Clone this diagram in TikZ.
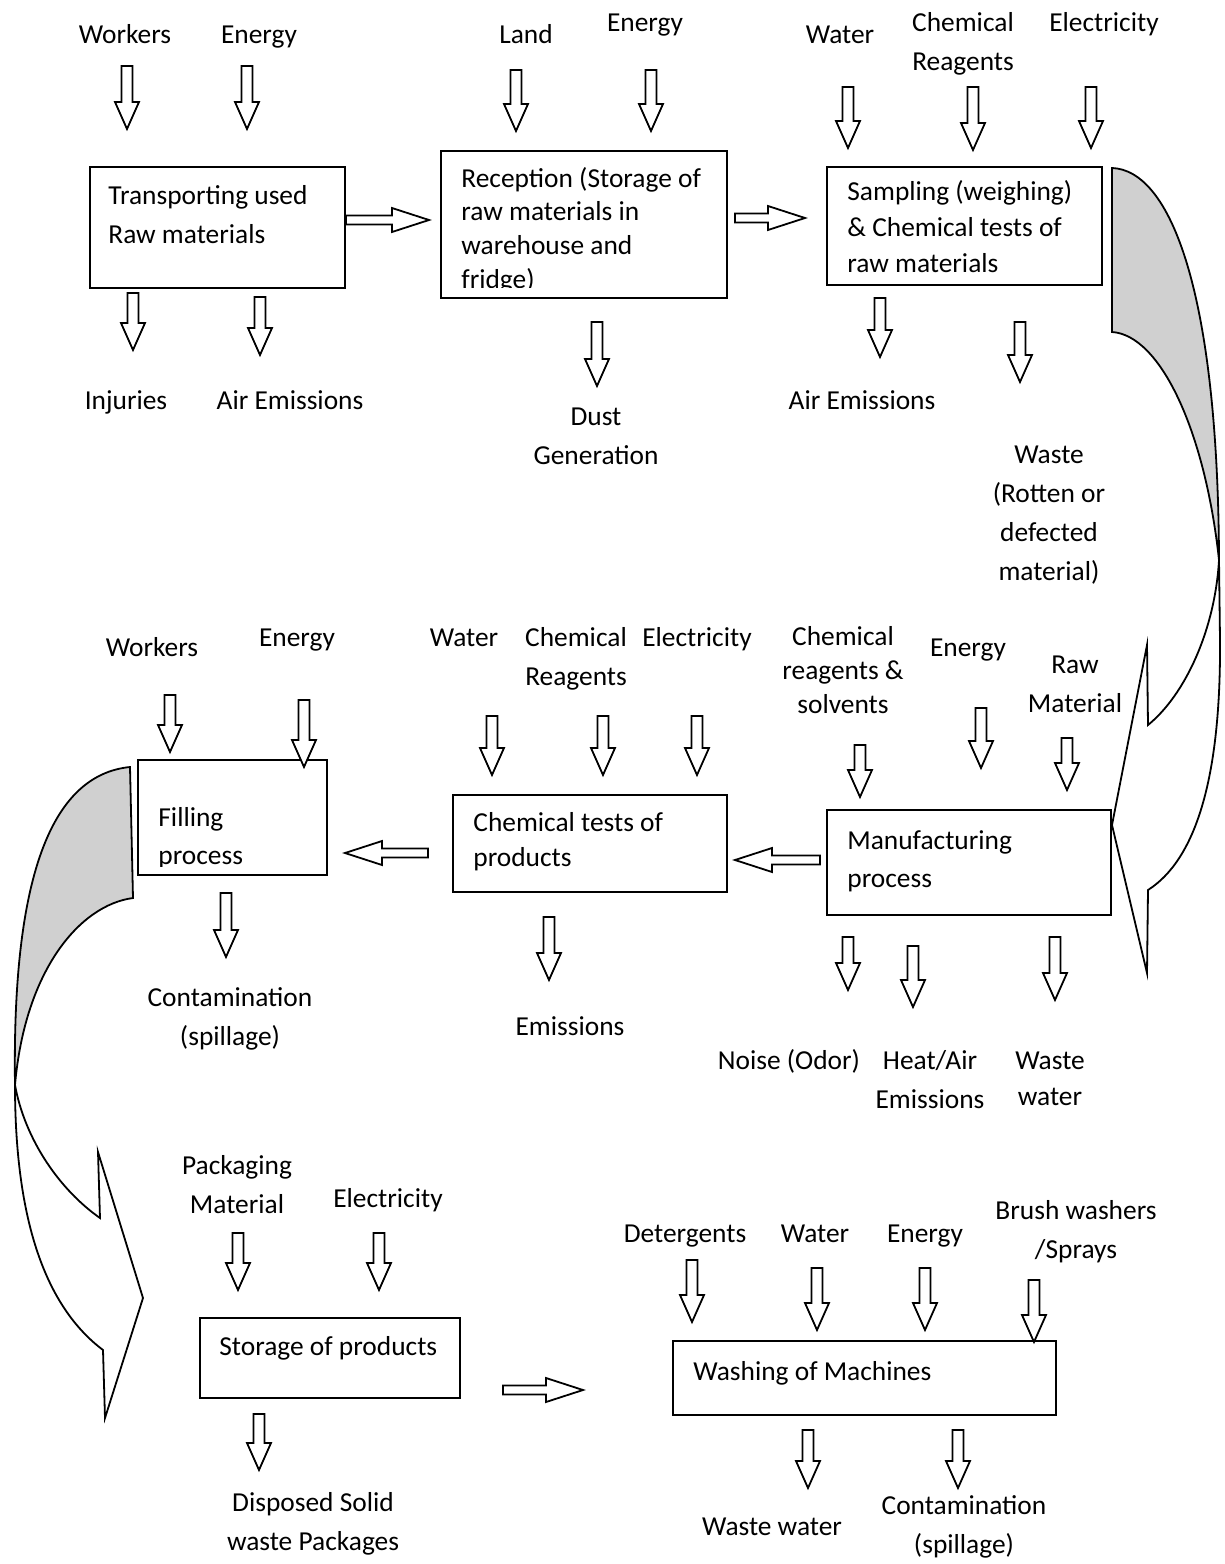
\documentclass[tikz,border=0pt]{standalone}
\usepackage{fontspec}
\setmainfont{Carlito}
\usetikzlibrary{fit}
\definecolor{bandgray}{RGB}{208,208,208}
\newcommand\dnarrow[3]{\draw[blk] (#1-5.5,#2) -- (#1+5.5,#2) -- (#1+5.5,#3-27) -- (#1+12,#3-27) -- (#1,#3) -- (#1-12,#3-27) -- (#1-5.5,#3-27) -- cycle;}
\newcommand\rtarrow[3]{\draw[blk] (#1,#3-4.5) -- (#2-37,#3-4.5) -- (#2-37,#3-12) -- (#2,#3) -- (#2-37,#3+12) -- (#2-37,#3+4.5) -- (#1,#3+4.5) -- cycle;}
\newcommand\lfarrow[3]{\draw[blk] (#1,#3-4.5) -- (#2+37,#3-4.5) -- (#2+37,#3-12) -- (#2,#3) -- (#2+37,#3+12) -- (#2+37,#3+4.5) -- (#1,#3+4.5) -- cycle;}
\begin{document}
\begin{tikzpicture}[x=0.5pt,y=-0.5pt,
  procbox/.style={draw, line width=0.9pt, inner sep=0pt},
  blk/.style={draw, line width=0.9pt, fill=white, line join=miter},
  band/.style={draw, line width=0.9pt, line join=miter},
  lbl/.style={font=\fontsize{13.7}{19.5}\selectfont, align=center, anchor=base, inner sep=0pt},
  boxtxt/.style={lbl, align=left, anchor=base west}]
\useasboundingbox[fill=white] (0,0) rectangle (1225,1564);
% (multi-line texts are placed by the baseline of their last line)

% ---------- Row 1 ----------
\node[procbox, fit={(90,167) (345,288)}] (transp) {};
\node[procbox, fit={(441,151) (727,298)}] (recep) {};
\node[procbox, fit={(827,167) (1102,285)}] (sampl) {};

\node[boxtxt] (transpT) at (108,243) {Transporting used\\Raw materials};
\begin{scope}
\clip (441,151) rectangle (727,287);
\node[boxtxt, font=\fontsize{13.7}{16.9}\selectfont] (recepT) at (461,288.4) {Reception (Storage of\\raw materials in\\warehouse and\\fridge)};
\end{scope}
\node[boxtxt, font=\fontsize{13.7}{18.2}\selectfont] (samplT) at (847,272.8) {Sampling (weighing)\\\& Chemical tests of\\raw materials};

\node[lbl] (w1) at (125,43) {Workers};
\node[lbl] (e1) at (259,43) {Energy};
\node[lbl] (inj) at (126,409) {Injuries};
\node[lbl] (ae1) at (290,409) {Air Emissions};
\node[lbl] (land) at (526,43) {Land};
\node[lbl] (e2) at (645,31) {Energy};
\node[lbl] (dust) at (596,464) {Dust\\Generation};
\node[lbl] (wat1) at (840,43) {Water};
\node[lbl] (cr1) at (963,70) {Chemical\\Reagents};
\node[lbl] (el1) at (1104,31) {Electricity};
\node[lbl] (ae2) at (862,409) {Air Emissions};
\node[lbl, font=\fontsize{13.7}{19.35}\selectfont] (waste1) at (1049,580) {Waste\\(Rotten or\\defected\\material)};

\dnarrow{127}{66}{129}
\dnarrow{247}{66}{129}
\dnarrow{516}{70}{131}
\dnarrow{651}{70}{131}
\dnarrow{848}{87}{148}
\dnarrow{973}{87}{150}
\dnarrow{1091}{87}{148}
\dnarrow{133}{293}{350}
\dnarrow{260}{297}{355}
\dnarrow{597}{322}{386}
\dnarrow{880}{298}{357}
\dnarrow{1020}{322}{382}
\rtarrow{346}{429}{220}
\rtarrow{735}{805}{218}

% ---------- Row 2 ----------
\node[procbox, fit={(138,760) (327,875)}] (fill) {};
\node[procbox, fit={(453,795) (727,892)}] (ctest) {};
\node[procbox, fit={(827,810) (1111,915)}] (manuf) {};

\begin{scope}
\clip (138,760) rectangle (327,866);
\node[boxtxt, font=\fontsize{13.7}{19}\selectfont] (fillT) at (158,864) {Filling\\process};
\end{scope}
\node[boxtxt, font=\fontsize{13.7}{17.5}\selectfont] (ctestT) at (473,866) {Chemical tests of\\products};
\node[boxtxt, font=\fontsize{13.7}{19}\selectfont] (manufT) at (847,887) {Manufacturing\\process};

\node[lbl] (w2) at (152,656) {Workers};
\node[lbl] (e3) at (297,646) {Energy};
\node[lbl] (cont1) at (230,1045) {Contamination\\(spillage)};
\node[lbl] (wat2) at (464,646) {Water};
\node[lbl] (cr2) at (576,685) {Chemical\\Reagents};
\node[lbl] (el2) at (697,646) {Electricity};
\node[lbl] (emis) at (570,1035) {Emissions};
\node[lbl, font=\fontsize{13.7}{16.8}\selectfont] (crs) at (843,713) {Chemical\\reagents \&\\solvents};
\node[lbl] (e4) at (968,656) {Energy};
\node[lbl] (rawm) at (1075,712) {Raw\\Material};
\node[lbl] (noise) at (789,1069) {Noise (Odor)};
\node[lbl] (heat) at (930,1108) {Heat/Air\\Emissions};
\node[lbl, font=\fontsize{13.7}{18}\selectfont] (ww1) at (1050,1105) {Waste\\water};

\dnarrow{170}{695}{752}
\dnarrow{304}{700}{767}
\dnarrow{492}{716}{775}
\dnarrow{603}{716}{775}
\dnarrow{697}{716}{775}
\dnarrow{860}{745}{797}
\dnarrow{981}{708}{768}
\dnarrow{1067}{738}{790}
\dnarrow{226}{893}{957}
\dnarrow{549}{917}{980}
\dnarrow{848}{937}{990}
\dnarrow{913}{946}{1007}
\dnarrow{1055}{937}{1000}
\lfarrow{428}{345}{853}
\lfarrow{820}{735}{860}

% ---------- Row 3 ----------
\node[procbox, fit={(200,1318) (460,1398)}] (stor) {};
\node[procbox, fit={(673,1341) (1056,1415)}] (wash) {};
\node[boxtxt] (storT) at (219,1355) {Storage of products};
\node[boxtxt] (washT) at (693,1380) {Washing of Machines};

\node[lbl] (pack) at (237,1213) {Packaging\\Material};
\node[lbl] (el3) at (388,1207) {Electricity};
\node[lbl] (disp) at (313,1550) {Disposed Solid\\waste Packages};
\node[lbl] (det) at (685,1242) {Detergents};
\node[lbl] (wat3) at (815,1242) {Water};
\node[lbl] (e5) at (925,1242) {Energy};
\node[lbl] (brush) at (1076,1258) {Brush washers\\/Sprays};
\node[lbl] (ww2) at (772,1535) {Waste water};
\node[lbl] (cont2) at (964,1553) {Contamination\\(spillage)};

\dnarrow{238}{1233}{1290}
\dnarrow{379}{1233}{1290}
\dnarrow{692}{1260}{1322}
\dnarrow{817}{1268}{1330}
\dnarrow{925}{1268}{1330}
\dnarrow{1034}{1280}{1342}
\dnarrow{259}{1414}{1470}
\dnarrow{808}{1430}{1488}
\dnarrow{958}{1430}{1488}
\rtarrow{503}{583}{1390}

% ---------- Curved arrows ----------
% right: from Sampling down to Manufacturing
\draw[band, fill=bandgray] (1112,168) .. controls (1170,170) and (1218,290) .. (1219,560)
  .. controls (1205,430) and (1160,335) .. (1112,332) -- cycle;
\draw[band, fill=white] (1219,560) -- (1220,640) .. controls (1221,780) and (1195,860) .. (1148,890)
  -- (1147,973) -- (1112,825) -- (1147,645) -- (1148,725)
  .. controls (1185,695) and (1215,630) .. (1219,560) -- cycle;
% left: from Filling down to Storage
\draw[band, fill=bandgray] (130,767) .. controls (50,775) and (12,880) .. (15,1085)
  .. controls (25,970) and (80,905) .. (133,898) -- cycle;
\draw[band, fill=white] (15,1085) .. controls (15,1230) and (50,1310) .. (103,1350)
  -- (105,1418) -- (143,1298) -- (98,1152) -- (100,1218)
  .. controls (60,1190) and (25,1140) .. (15,1085) -- cycle;
\end{tikzpicture}
\end{document}
